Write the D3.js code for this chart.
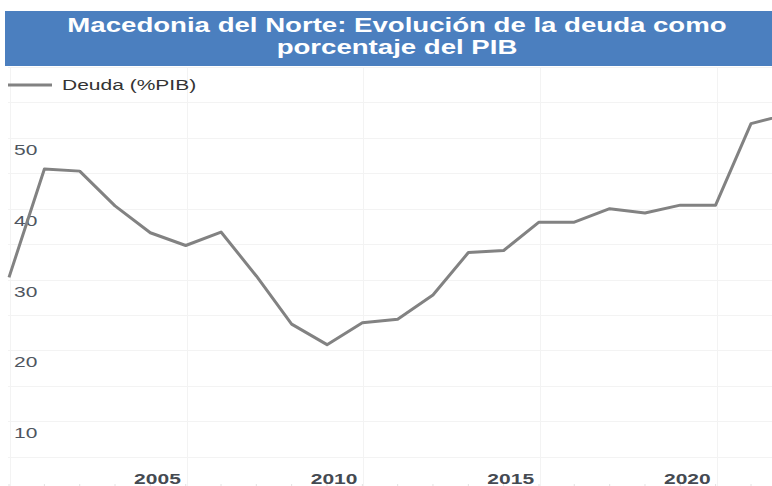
<!DOCTYPE html>
<html lang="es">
<head>
<meta charset="UTF-8">
<title>Macedonia del Norte deuda</title>
<script src="https://cdn.jsdelivr.net/npm/d3@7"></script>
<style>
  * { margin: 0; padding: 0; }
  html, body { width: 772px; height: 486px; overflow: hidden; background: #fff; }
  text { font-family: Arial, "Liberation Sans", sans-serif; }
</style>
</head>
<body>
<script>
  // datos
  const years = [1999, 2000, 2001, 2002, 2003, 2004, 2005, 2006, 2007, 2008, 2009, 2010,
                 2011, 2012, 2013, 2014, 2015, 2016, 2017, 2018, 2019, 2020, 2021]
  const deuda = [30.3, 45.6, 45.3, 40.4, 36.6, 34.8, 36.7, 30.5, 23.7, 20.8, 23.9, 24.4,
                 27.8, 33.8, 34.1, 38.1, 38.1, 40.0, 39.4, 40.5, 40.5, 52.0, 53.3]
  const yTicks = [10, 20, 30, 40, 50]
  const xTicks = [2005, 2010, 2015, 2020]
  const titleLines = ['Macedonia del Norte: Evolución de la deuda como', 'porcentaje del PIB']
  const serieName = 'Deuda (%PIB)'

  const width = 772, height = 486
  const sx = 1.4 // el texto del original esta estirado en horizontal

  const svg = d3.select('body').append('svg').attr('width', width).attr('height', height)

  // cada valor anual va al final del año
  const endOfYear = y => new Date(y, 11, 31)
  const x = d3.scaleTime()
    .domain([endOfYear(1999), endOfYear(2020)])
    .range([9, 751])
  const y = d3.scaleLinear().domain([0, 60]).range([492, 67])

  const grid = svg.append('g').attr('stroke', '#f3f3f3').attr('stroke-width', 1)
  // rejilla horizontal cada 5
  grid.selectAll('line.h').data(d3.range(5, 61, 5)).join('line')
    .attr('class', 'h')
    .attr('x1', 8).attr('x2', width)
    .attr('y1', d => Math.round(y(d)) + 0.5).attr('y2', d => Math.round(y(d)) + 0.5)
  // rejilla vertical cada 5 años
  grid.selectAll('line.v').data([2000].concat(xTicks)).join('line')
    .attr('class', 'v')
    .attr('x1', d => Math.round(x(new Date(d, 0, 1))) + 1.5)
    .attr('x2', d => Math.round(x(new Date(d, 0, 1))) + 1.5)
    .attr('y1', 67).attr('y2', height)

  // marcas menores abajo
  svg.append('g').selectAll('line').data(years).join('line')
    .attr('x1', d => x(endOfYear(d))).attr('x2', d => x(endOfYear(d)))
    .attr('y1', 484).attr('y2', 486)
    .attr('stroke', '#e2e2e2')

  // etiquetas eje y
  svg.append('g').selectAll('text').data(yTicks).join('text')
    .attr('transform', d => `translate(14, ${y(d) + 17}) scale(${sx}, 1)`)
    .attr('fill', '#4f5660')
    .style('font-size', '15px')
    .text(d => d)

  // etiquetas eje x
  svg.append('g').selectAll('text').data(xTicks).join('text')
    .attr('transform', d => `translate(${x(new Date(d, 0, 1)) - 5}, 484) scale(${sx}, 1)`)
    .attr('text-anchor', 'end')
    .attr('fill', '#454a52')
    .style('font-size', '15px')
    .style('font-weight', 'bold')
    .text(d => d)

  // linea
  const line = d3.line()
    .x((d, i) => x(endOfYear(years[i])))
    .y(d => y(d))
  svg.append('path').datum(deuda)
    .attr('d', line)
    .attr('fill', 'none')
    .attr('stroke', '#828282')
    .attr('stroke-width', 3)
    .attr('stroke-linejoin', 'round')

  // leyenda
  svg.append('line').attr('x1', 8).attr('x2', 52).attr('y1', 85).attr('y2', 85)
    .attr('stroke', '#828282').attr('stroke-width', 3)
  svg.append('text')
    .attr('transform', `translate(62, 90) scale(${sx}, 1)`)
    .attr('fill', '#333')
    .style('font-size', '15px')
    .text(serieName)

  // titulo
  svg.append('rect').attr('x', 5).attr('y', 11).attr('width', width - 5).attr('height', 55)
    .attr('fill', '#4b7fbf')
  svg.append('g').selectAll('text').data(titleLines).join('text')
    .attr('transform', (d, i) => `translate(397, ${32 + i * 22}) scale(${sx - 0.02}, 1)`)
    .attr('text-anchor', 'middle')
    .attr('fill', '#fff')
    .style('font-size', '20px')
    .style('font-weight', 'bold')
    .text(d => d)
</script>
</body>
</html>
